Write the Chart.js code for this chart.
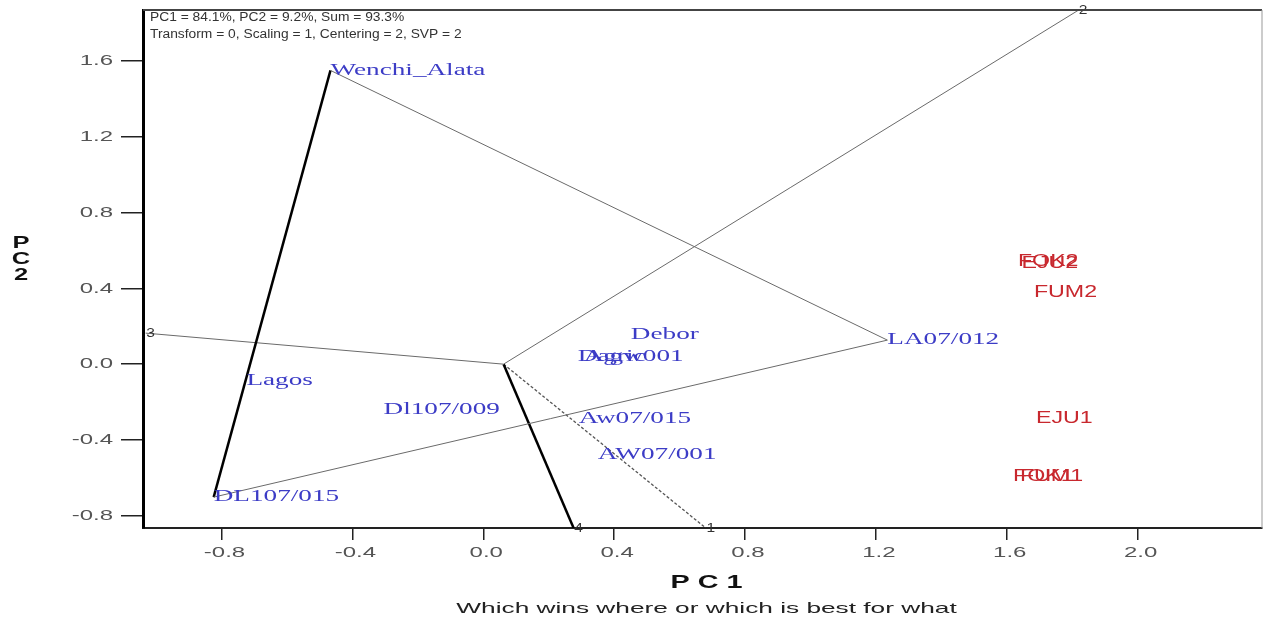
<!DOCTYPE html>
<html lang="en">
<head>
    <meta charset="UTF-8">
    <title>Which wins where or which is best for what</title>
    <script src="https://cdn.jsdelivr.net/npm/chart.js"></script>
    <style>
        body {
            margin: 0;
            padding: 0;
            background: #ffffff;
        }
        canvas {
            display: block;
        }
    </style>
</head>
<body>
    <canvas id="biplot" width="1266" height="625"></canvas>

    <script>
        // Tick values
        const xTicks = [-0.8, -0.4, 0.0, 0.4, 0.8, 1.2, 1.6, 2.0];
        const yTicks = [-0.8, -0.4, 0.0, 0.4, 0.8, 1.2, 1.6];

        // Genotype labels (blue) and their positions
        const genotypes = ['Wenchi_Alata', 'LA07/012', 'DL107/015', 'Lagos', 'Dl107/009', 'Debor', 'Dagw001', 'Agric', 'Aw07/015', 'AW07/001'];
        const genoX = [-0.467, 1.235, -0.824, -0.724, -0.305, 0.451, 0.289, 0.307, 0.292, 0.350];
        const genoY = [1.551, 0.127, -0.702, -0.090, -0.243, 0.153, 0.037, 0.037, -0.290, -0.480];

        // Environment labels (red) and their positions
        const environments = ['FOK2', 'EJU2', 'FUM2', 'EJU1', 'FOK1', 'FUM1'];
        const envX = [1.634, 1.645, 1.683, 1.689, 1.619, 1.640];
        const envY = [0.540, 0.530, 0.380, -0.285, -0.591, -0.591];

        // Polygon vertices (genotype indexes) and sector rays from the origin
        const polygonOrder = [0, 1, 2];
        const origin = [0.062, 0.0];
        const rayNames = ['2', '3', '4', '1'];
        const rayX = [1.818, -1.032, 0.276, 0.680];
        const rayY = [1.868, 0.164, -0.865, -0.865];

        const gray = '#6a6a6a';
        const sans = '"Liberation Sans", Arial, sans-serif';
        const serif = '"Liberation Serif", "Times New Roman", serif';

        function pt(i) {
            return { x: genoX[i], y: genoY[i] };
        }

        // text drawn wider than normal, like the original export
        function wideText(ctx, text, x, y, sx, align) {
            ctx.save();
            ctx.translate(x, y);
            ctx.scale(sx, 1);
            ctx.textAlign = align || 'left';
            ctx.fillText(text, 0, 0);
            ctx.restore();
        }

        const datasets = [];

        // polygon sides
        const sideStyles = [
            { color: gray, width: 1 },     // Wenchi -> LA
            { color: gray, width: 1 },     // LA -> DL
            { color: '#000', width: 2.5 }  // DL -> Wenchi
        ];
        polygonOrder.forEach((g, i) => {
            const next = polygonOrder[(i + 1) % polygonOrder.length];
            datasets.push({
                data: [pt(g), pt(next)],
                showLine: true,
                borderColor: sideStyles[i].color,
                borderWidth: sideStyles[i].width,
                pointRadius: 0
            });
        });

        // rays
        const rayStyles = [
            { color: gray, width: 1, dash: [] },
            { color: gray, width: 1, dash: [] },
            { color: '#000', width: 2.5, dash: [] },
            { color: '#555', width: 1.3, dash: [3, 2] }
        ];
        rayNames.forEach((r, i) => {
            datasets.push({
                data: [{ x: origin[0], y: origin[1] }, { x: rayX[i], y: rayY[i] }],
                showLine: true,
                borderColor: rayStyles[i].color,
                borderWidth: rayStyles[i].width,
                borderDash: rayStyles[i].dash,
                pointRadius: 0,
                rayLabel: r
            });
        });

        // label anchor points
        datasets.push({
            data: genotypes.map((g, i) => ({ x: genoX[i], y: genoY[i] })),
            pointRadius: 0,
            textLabels: genotypes,
            textFont: '16px ' + serif,
            textColor: '#3c3cc6',
            textStretch: 1.7
        });
        datasets.push({
            data: environments.map((e, i) => ({ x: envX[i], y: envY[i] })),
            pointRadius: 0,
            textLabels: environments,
            textFont: '16px ' + sans,
            textColor: '#c8282e',
            textStretch: 1.45
        });

        // Draw text labels, tick labels, frame, captions
        const biplotPlugin = {
            id: 'biplot',
            afterDatasetsDraw(chart) {
                const ctx = chart.ctx;
                ctx.save();
                ctx.textBaseline = 'middle';
                chart.data.datasets.forEach((ds, di) => {
                    const meta = chart.getDatasetMeta(di);
                    if (ds.textLabels) {
                        ctx.font = ds.textFont;
                        ctx.fillStyle = ds.textColor;
                        meta.data.forEach((el, i) => {
                            wideText(ctx, ds.textLabels[i], el.x, el.y, ds.textStretch, 'left');
                        });
                    }
                    if (ds.rayLabel) {
                        const end = meta.data[1];
                        ctx.font = '13px ' + sans;
                        ctx.fillStyle = '#333';
                        wideText(ctx, ds.rayLabel, end.x + 5, end.y, 1.2, 'center');
                    }
                });
                ctx.restore();
            },
            afterDraw(chart) {
                const ctx = chart.ctx;
                const a = chart.chartArea;
                const xs = chart.scales.x;
                const ys = chart.scales.y;
                ctx.save();
                // frame: top and right
                ctx.strokeStyle = '#444';
                ctx.lineWidth = 2;
                ctx.beginPath();
                ctx.moveTo(a.left, a.top);
                ctx.lineTo(a.right, a.top);
                ctx.stroke();
                ctx.strokeStyle = '#999';
                ctx.lineWidth = 1;
                ctx.beginPath();
                ctx.moveTo(a.right, a.top);
                ctx.lineTo(a.right, a.bottom);
                ctx.stroke();

                // tick labels
                ctx.font = '15px ' + sans;
                ctx.fillStyle = '#555';
                ctx.textBaseline = 'middle';
                xTicks.forEach(v => {
                    wideText(ctx, v.toFixed(1), xs.getPixelForValue(v) + 3, a.bottom + 25, 1.6, 'center');
                });
                yTicks.forEach(v => {
                    wideText(ctx, v.toFixed(1), a.left - 30, ys.getPixelForValue(v), 1.6, 'right');
                });

                // info text
                ctx.font = '12px ' + sans;
                ctx.fillStyle = '#333';
                wideText(ctx, 'PC1 = 84.1%, PC2 = 9.2%, Sum = 93.3%', a.left + 7, a.top + 8, 1.15, 'left');
                wideText(ctx, 'Transform = 0, Scaling = 1, Centering = 2, SVP = 2', a.left + 7, a.top + 25, 1.15, 'left');

                // axis titles
                const cx = (a.left + a.right) / 2;
                ctx.font = 'bold 18px ' + sans;
                ctx.fillStyle = '#111';
                wideText(ctx, 'P C 1', cx + 4, 583, 1.6, 'center');
                ctx.font = '15px ' + sans;
                ctx.fillStyle = '#222';
                wideText(ctx, 'Which wins where or which is best for what', cx + 4, 609, 1.75, 'center');

                ctx.font = 'bold 17px ' + sans;
                ctx.fillStyle = '#111';
                ['P', 'C', '2'].forEach((c, i) => wideText(ctx, c, 21, 243 + i * 16, 1.5, 'center'));
                ctx.restore();
            }
        };

        new Chart(document.getElementById('biplot'), {
            type: 'scatter',
            data: { datasets: datasets },
            options: {
                responsive: false,
                animation: false,
                layout: { padding: { top: 10, right: 4, left: 0, bottom: 0 } },
                plugins: {
                    legend: { display: false },
                    tooltip: { enabled: false }
                },
                scales: {
                    x: {
                        type: 'linear',
                        min: -1.04,
                        max: 2.38,
                        afterBuildTicks: (s) => { s.ticks = xTicks.map(v => ({ value: v })); },
                        afterFit: (s) => { s.height = 97; },
                        ticks: {
                            color: 'rgba(0,0,0,0)',
                            font: { family: sans, size: 2 },
                            padding: 0
                        },
                        grid: {
                            drawOnChartArea: false,
                            drawTicks: true,
                            tickLength: 12,
                            color: '#222',
                            lineWidth: 1.5
                        },
                        border: { display: true, color: '#222', width: 2 }
                    },
                    y: {
                        type: 'linear',
                        min: -0.865,
                        max: 1.87,
                        afterBuildTicks: (s) => { s.ticks = yTicks.map(v => ({ value: v })); },
                        afterFit: (s) => { s.width = 143; },
                        ticks: {
                            color: 'rgba(0,0,0,0)',
                            font: { family: sans, size: 2 },
                            padding: 0
                        },
                        grid: {
                            drawOnChartArea: false,
                            drawTicks: true,
                            tickLength: 22,
                            color: '#222',
                            lineWidth: 1.5
                        },
                        border: { display: true, color: '#000', width: 3 }
                    }
                }
            },
            plugins: [biplotPlugin]
        });
    </script>
</body>
</html>
